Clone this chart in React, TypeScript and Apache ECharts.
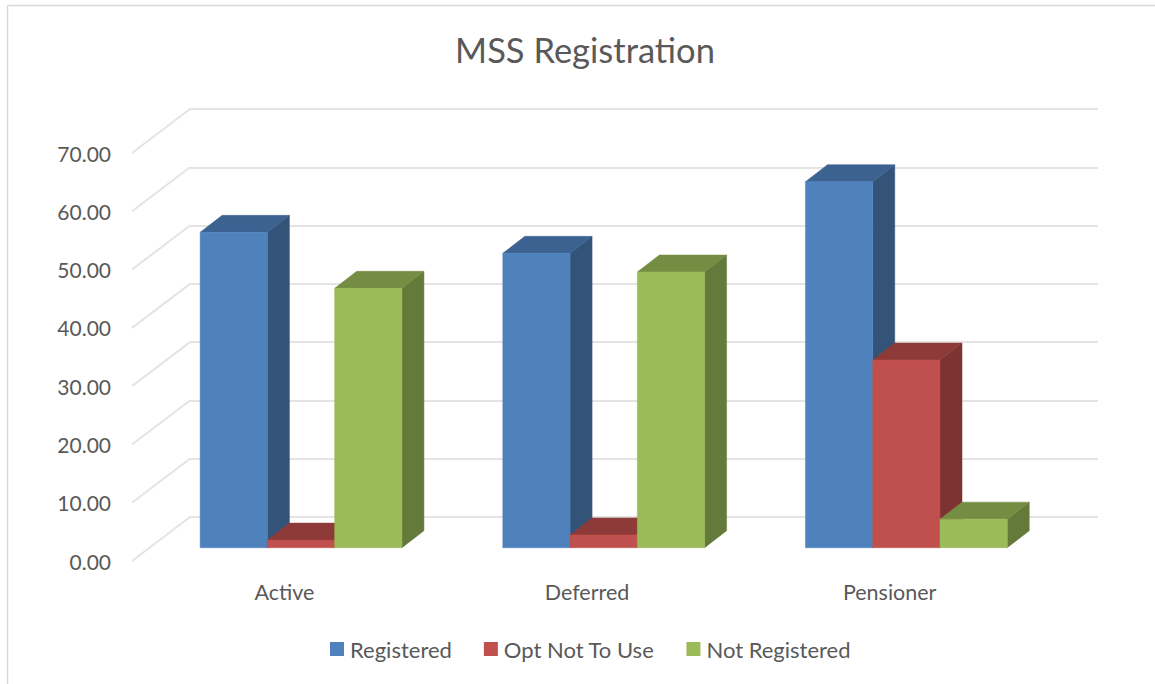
import React, { useEffect, useRef } from "react";
import * as echarts from "echarts";

const categories = ["Active", "Deferred", "Pensioner"];
const registered = [54.1, 50.5, 62.8];
const optNotToUse = [1.3, 2.2, 32.2];
const notRegistered = [44.5, 47.3, 4.9];
const tickValues = [0, 10, 20, 30, 40, 50, 60, 70];

const FONT = "Lato";
const TEXT = "#595959";
const GRID = "#E4E4E4";

const palette = [
  { front: "#4F81BD", side: "#335379", top: "#3C6291" },
  { front: "#C0504D", side: "#7D3331", top: "#8E3A38" },
  { front: "#9BBB59", side: "#647A3A", top: "#758D43" },
];

const barSeries = (name: string, values: number[], idx: number) => ({
  name,
  type: "custom",
  coordinateSystem: "cartesian2d",
  xAxisIndex: 0,
  yAxisIndex: 0,
  itemStyle: { color: palette[idx].front },
  data: values.map((v, i) => [i, v]),
  encode: { x: 0, y: 1 },
  z: 5 + idx,
  renderItem: (_: any, api: any) => {
    const c = api.value(0);
    const v = api.value(1);
    const base = api.coord([c, 0]);
    const tip = api.coord([c, v]);
    const w = api.size([1, 0])[0] / 4.5;
    const planeDx = -40.3;
    const planeDy = 30.7;
    const dx = 22;
    const dy = -17;
    const l = base[0] + planeDx - 1.5 * w + idx * w;
    const r = l + w;
    const b = base[1] + planeDy;
    const t = tip[1] + planeDy;
    const poly = (points: number[][], fill: string) => ({
      type: "polygon",
      shape: { points },
      style: { fill, stroke: fill, lineWidth: 0.5 },
    });
    return {
      type: "group",
      children: [
        poly([[r, t], [r + dx, t + dy], [r + dx, b + dy], [r, b]], palette[idx].side),
        poly([[l, t], [l + dx, t + dy], [r + dx, t + dy], [r, t]], palette[idx].top),
        poly([[l, t], [r, t], [r, b], [l, b]], palette[idx].front),
      ],
    };
  },
});

const sideWallSeries = {
  type: "custom",
  coordinateSystem: "cartesian2d",
  xAxisIndex: 0,
  yAxisIndex: 0,
  silent: true,
  z: 1,
  data: tickValues.map((v) => [0, v]),
  encode: { x: 0, y: 1 },
  renderItem: (_: any, api: any) => {
    const p = api.coord([api.value(0), api.value(1)]);
    const x = p[0] - api.size([1, 0])[0] / 2;
    return {
      type: "line",
      shape: { x1: x, y1: p[1], x2: x - 58, y2: p[1] + 44 },
      style: { stroke: GRID, lineWidth: 2 },
    };
  },
};

const option = {
  animation: false,
  backgroundColor: "#FFFFFF",
  title: {
    text: "MSS Registration",
    left: 580,
    top: 27,
    textAlign: "center",
    textStyle: { fontFamily: FONT, fontSize: 34.5, fontWeight: "normal", color: TEXT },
  },
  legend: {
    left: 325,
    top: 633,
    icon: "rect",
    itemWidth: 14,
    itemHeight: 14,
    itemGap: 32,
    data: ["Registered", "Opt Not To Use", "Not Registered"],
    textStyle: { fontFamily: FONT, fontSize: 22, color: TEXT, padding: [0, 0, 0, 1] },
  },
  grid: [
    { left: 190, top: 109, width: 908, height: 408 },
    { left: 133, top: 153, width: 908, height: 408 },
  ],
  xAxis: [
    {
      gridIndex: 0,
      type: "category",
      data: categories,
      axisLine: { show: false },
      axisTick: { show: false },
      axisLabel: { show: false },
    },
    {
      gridIndex: 1,
      type: "category",
      data: categories,
      axisLine: { show: false },
      axisTick: { show: false },
      axisLabel: { margin: 20, fontFamily: FONT, fontSize: 21.5, color: TEXT },
    },
  ],
  yAxis: [
    {
      gridIndex: 0,
      type: "value",
      min: 0,
      max: 70,
      interval: 10,
      axisLine: { show: false },
      axisTick: { show: false },
      axisLabel: { show: false },
      splitLine: { show: true, lineStyle: { color: GRID, width: 2 } },
    },
    {
      gridIndex: 1,
      type: "value",
      min: 0,
      max: 70,
      interval: 10,
      axisLine: { show: false },
      axisTick: { show: false },
      splitLine: { show: false },
      axisLabel: {
        margin: 22,
        fontFamily: FONT,
        fontSize: 21,
        color: TEXT,
        formatter: (v: number) => v.toFixed(2),
      },
    },
  ],
  graphic: [
    { type: "line", silent: true, shape: { x1: 7.5, y1: 5.5, x2: 1155, y2: 5.5 }, style: { stroke: "#D9D9D9", lineWidth: 1.5 } },
    { type: "line", silent: true, shape: { x1: 7.5, y1: 5.5, x2: 7.5, y2: 684 }, style: { stroke: "#D9D9D9", lineWidth: 1.5 } },
  ],
  series: [
    sideWallSeries,
    barSeries("Registered", registered, 0),
    barSeries("Opt Not To Use", optNotToUse, 1),
    barSeries("Not Registered", notRegistered, 2),
  ],
};

export default function App() {
  const ref = useRef<HTMLDivElement>(null);
  useEffect(() => {
    const chart = echarts.init(ref.current!, undefined, { renderer: "svg" });
    chart.setOption(option as any);
    return () => chart.dispose();
  }, []);
  return <div ref={ref} style={{ position: "fixed", left: 0, top: 0, width: 1155, height: 684 }} />;
}
